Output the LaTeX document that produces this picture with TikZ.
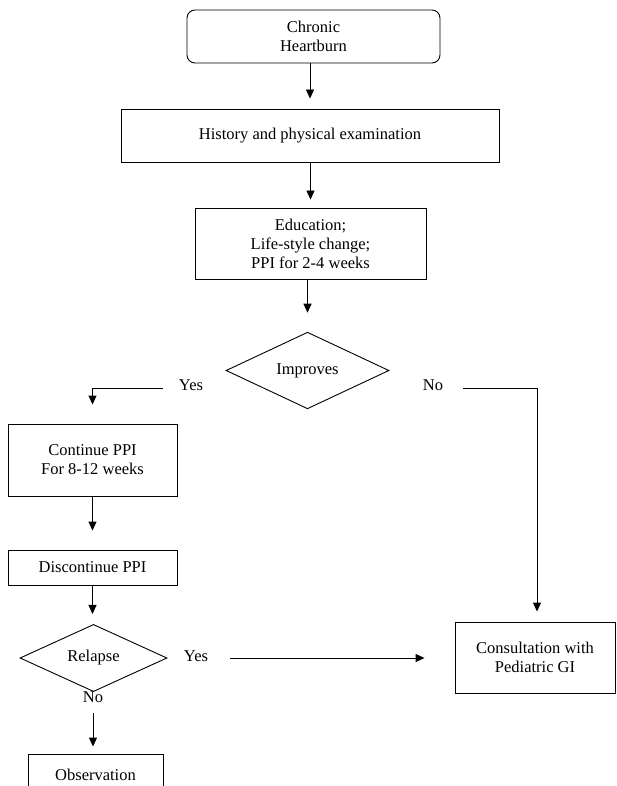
\documentclass[tikz,border=0pt]{standalone}
\usepackage{fontspec}
\setmainfont{Liberation Serif}
\usetikzlibrary{shapes.geometric,arrows.meta}
\begin{document}
\begin{tikzpicture}[x=1pt,y=-1pt,
  every node/.style={font=\fontsize{16.5}{19}\selectfont, inner sep=0pt},
  box/.style={draw, line width=0.9pt, align=center},
  rbox/.style={box, rounded corners=8pt},
  dia/.style={draw, line width=0.9pt, diamond, inner sep=0pt},
  arr/.style={draw, line width=0.9pt, -{Triangle[length=9pt,width=8pt]}}]
\useasboundingbox (0,0) rectangle (616,786);
\clip (0,0) rectangle (616,786);
% nodes
\node[rbox, minimum width=253pt, minimum height=53pt] (chronic) at (313.5,36.5) {Chronic\\Heartburn};
\node[box, minimum width=378pt, minimum height=53pt] (hist) at (310,135.5) {History and physical examination};
\node[box, minimum width=231pt, minimum height=71pt] (edu) at (310.5,243.5) {Education;\\Life-style change;\\PPI for 2-4 weeks};
\node[dia, minimum width=163pt, minimum height=73pt] (imp) at (307.5,370.5) {Improves};
\node (yes1) at (191,385) {Yes};
\node (no1) at (433,385) {No};
\node[box, minimum width=169pt, minimum height=72pt] (cont) at (92.5,460) {Continue PPI\\For 8-12 weeks};
\node[box, minimum width=169pt, minimum height=35pt] (disc) at (92.5,567.5) {Discontinue PPI};
\node[dia, minimum width=147pt, minimum height=52pt] (rel) at (93.5,658) {Relapse};
\node (yes2) at (196,656) {Yes};
\node (no2) at (93,697) {No};
\node[box, minimum width=135pt, minimum height=42pt] (obs) at (95.5,775) {Observation};
\node[box, minimum width=160pt, minimum height=71pt] (cons) at (535,657.5) {Consultation with\\Pediatric GI};
% free ends
\coordinate (y1s) at (163,388);
\coordinate (n1s) at (463,388);
\coordinate (n1c) at (537,388);
\coordinate (y2s) at (230,658);
\coordinate (n2s) at (93,713);
% connectors
\draw[arr, shorten >=10pt] (chronic.south -| hist.north) -- (hist.north);
\draw[arr, shorten >=8pt] (hist.south -| edu.north) -- (edu.north);
\draw[arr, shorten >=19pt] (edu.south -| imp.north) -- (imp.north);
\draw[arr, shorten >=19pt] (y1s) -| (cont.north);
\draw[arr, shorten >=10pt] (n1s) -- (n1c) -- (n1c |- cons.north);
\draw[arr, shorten >=19pt] (cont.south) -- (disc.north);
\draw[arr, shorten >=10pt] (disc.south) -- (disc.south |- rel.north);
\draw[arr, shorten >=30pt] (y2s) -- (y2s -| cons.west);
\draw[arr, shorten >=7pt] (n2s) -- (n2s |- obs.north);
\end{tikzpicture}
\end{document}
